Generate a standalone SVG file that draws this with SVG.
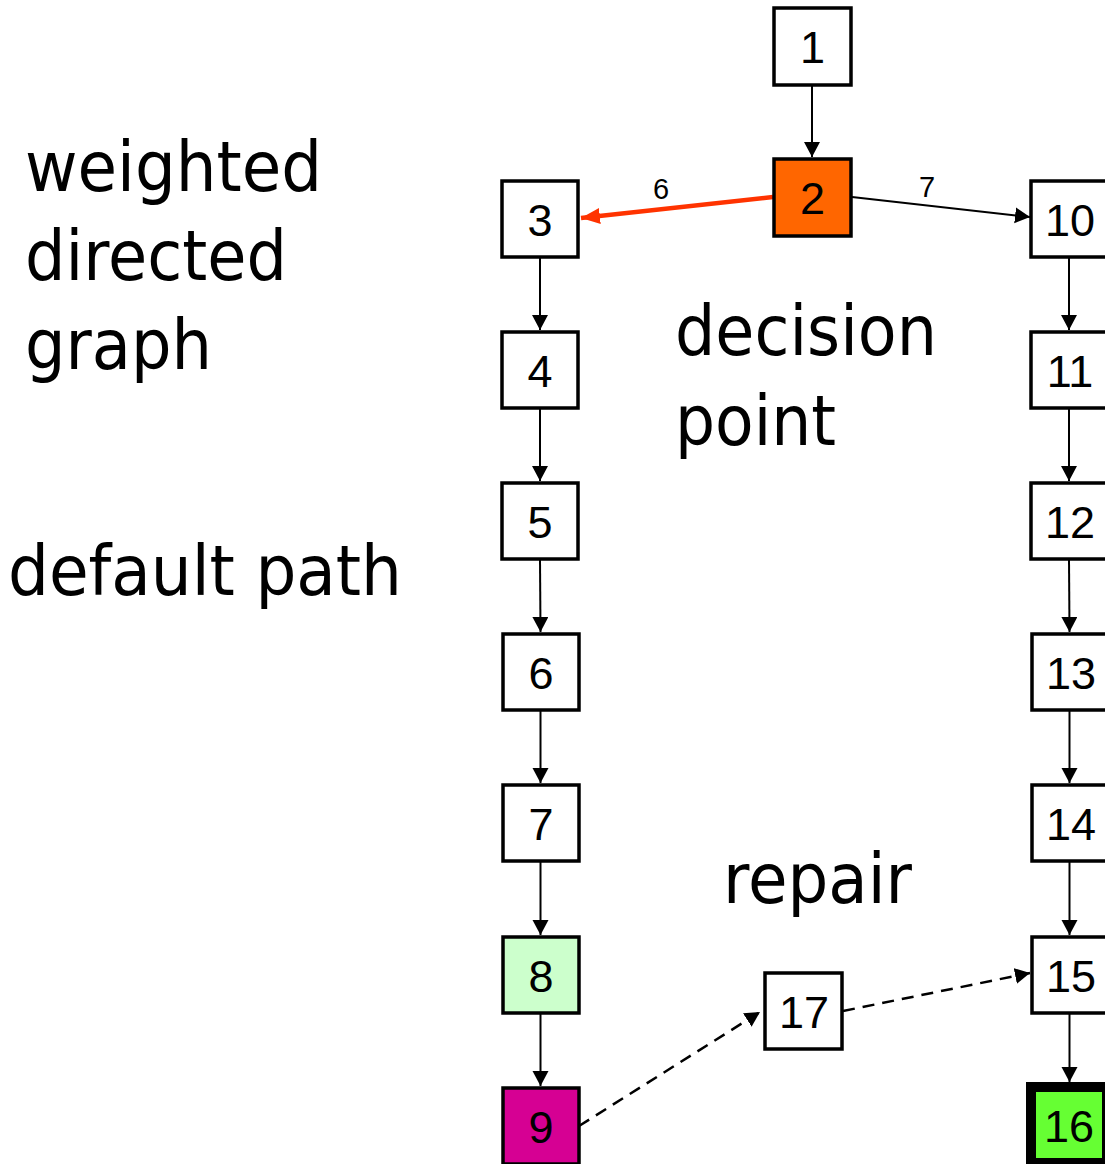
<svg xmlns="http://www.w3.org/2000/svg" width="1105" height="1164" viewBox="0 0 1105 1164">
<defs>
<style>
.n rect{fill:#fff;stroke:#000;stroke-width:3.5}
.n text{font-family:"Liberation Sans",Arial,sans-serif;font-size:45px;text-anchor:middle;fill:#000}
.lbl{font-family:"DejaVu Sans",Verdana,sans-serif;font-size:69px;fill:#000}
.w{font-family:"Liberation Sans",Arial,sans-serif;font-size:29px;fill:#000;text-anchor:middle}
.e{stroke:#000;stroke-width:2;fill:none;marker-end:url(#ah)}
.d{stroke:#000;stroke-width:2.5;fill:none;stroke-dasharray:12 8;marker-end:url(#ah)}
</style>
<marker id="ah" markerUnits="userSpaceOnUse" markerWidth="18" markerHeight="18" refX="15" refY="8" orient="auto">
<path d="M0,0 L15,8 L0,16 Z" fill="#000"/>
</marker>
<marker id="ahr" markerUnits="userSpaceOnUse" markerWidth="22" markerHeight="18" refX="19" refY="8" orient="auto">
<path d="M0,0 L19,8 L0,16 Z" fill="#FF3300"/>
</marker>
</defs>
<rect width="1105" height="1164" fill="#fff"/>
<g id="labels">
<text class="lbl" x="25" y="191" textLength="297" lengthAdjust="spacingAndGlyphs">weighted</text>
<text class="lbl" x="25" y="280" textLength="262" lengthAdjust="spacingAndGlyphs">directed</text>
<text class="lbl" x="25" y="369" textLength="187" lengthAdjust="spacingAndGlyphs">graph</text>
<text class="lbl" x="8" y="595" textLength="394" lengthAdjust="spacingAndGlyphs">default path</text>
<text class="lbl" x="675" y="355" textLength="262" lengthAdjust="spacingAndGlyphs">decision</text>
<text class="lbl" x="675" y="445" textLength="161" lengthAdjust="spacingAndGlyphs">point</text>
<text class="lbl" x="723" y="903" textLength="189" lengthAdjust="spacingAndGlyphs">repair</text>
</g>
<g id="connectors">
<line class="e" x1="812" y1="86" x2="812" y2="157"/>
<line x1="773" y1="197" x2="581" y2="218" stroke="#FF3300" stroke-width="4.5" marker-end="url(#ahr)"/>
<line class="e" x1="852" y1="197" x2="1030" y2="217"/>
<text class="w" x="661" y="199">6</text>
<text class="w" x="927" y="197">7</text>
<line class="e" x1="540" y1="258" x2="540" y2="330"/>
<line class="e" x1="540" y1="409" x2="540" y2="481"/>
<line class="e" x1="540" y1="560" x2="540.5" y2="632"/>
<line class="e" x1="540.5" y1="711" x2="540.5" y2="783"/>
<line class="e" x1="540.5" y1="862" x2="540.5" y2="935"/>
<line class="e" x1="540.5" y1="1014" x2="540.5" y2="1086"/>
<line class="e" x1="1069" y1="258" x2="1069" y2="330"/>
<line class="e" x1="1069" y1="409" x2="1069" y2="481"/>
<line class="e" x1="1069" y1="560" x2="1069.5" y2="632"/>
<line class="e" x1="1069.5" y1="711" x2="1069.5" y2="783"/>
<line class="e" x1="1069.5" y1="862" x2="1069.5" y2="935"/>
<line class="e" x1="1069.5" y1="1014" x2="1069.5" y2="1082"/>
<line class="d" x1="579" y1="1126" x2="760" y2="1012"/>
<line class="d" x1="843" y1="1011" x2="1030" y2="973"/>
</g>
<g id="n1" class="n"><rect x="774" y="8" width="77" height="77"/><text x="812.5" y="63">1</text></g>
<g id="n2" class="n"><rect x="774" y="159" width="77" height="77" style="fill:#FF6600"/><text x="812.5" y="214">2</text></g>
<g id="n3" class="n"><rect x="502" y="181" width="76" height="76"/><text x="540" y="236">3</text></g>
<g id="n4" class="n"><rect x="502" y="332" width="76" height="76"/><text x="540" y="387">4</text></g>
<g id="n5" class="n"><rect x="502" y="483" width="76" height="76"/><text x="540" y="538">5</text></g>
<g id="n6" class="n"><rect x="503" y="634" width="76" height="76"/><text x="541" y="689">6</text></g>
<g id="n7" class="n"><rect x="503" y="785" width="76" height="76"/><text x="541" y="840">7</text></g>
<g id="n8" class="n"><rect x="503" y="937" width="76" height="76" style="fill:#CCFFCC"/><text x="541" y="992">8</text></g>
<g id="n9" class="n"><rect x="503" y="1088" width="76" height="76" style="fill:#D60093"/><text x="541" y="1143">9</text></g>
<g id="n10" class="n"><rect x="1031" y="181" width="77" height="76"/><text x="1070" y="236">10</text></g>
<g id="n11" class="n"><rect x="1031" y="332" width="77" height="76"/><text x="1070" y="387">11</text></g>
<g id="n12" class="n"><rect x="1031" y="483" width="77" height="76"/><text x="1070" y="538">12</text></g>
<g id="n13" class="n"><rect x="1032" y="634" width="77" height="76"/><text x="1071" y="689">13</text></g>
<g id="n14" class="n"><rect x="1032" y="785" width="77" height="76"/><text x="1071" y="840">14</text></g>
<g id="n15" class="n"><rect x="1032" y="937" width="77" height="76"/><text x="1071" y="992">15</text></g>
<g id="n16" class="n"><rect x="1031" y="1087" width="76" height="76" style="fill:#66FF33;stroke-width:10"/><text x="1069" y="1142">16</text></g>
<g id="n17" class="n"><rect x="765" y="973" width="77" height="76"/><text x="804" y="1028">17</text></g>
</svg>
